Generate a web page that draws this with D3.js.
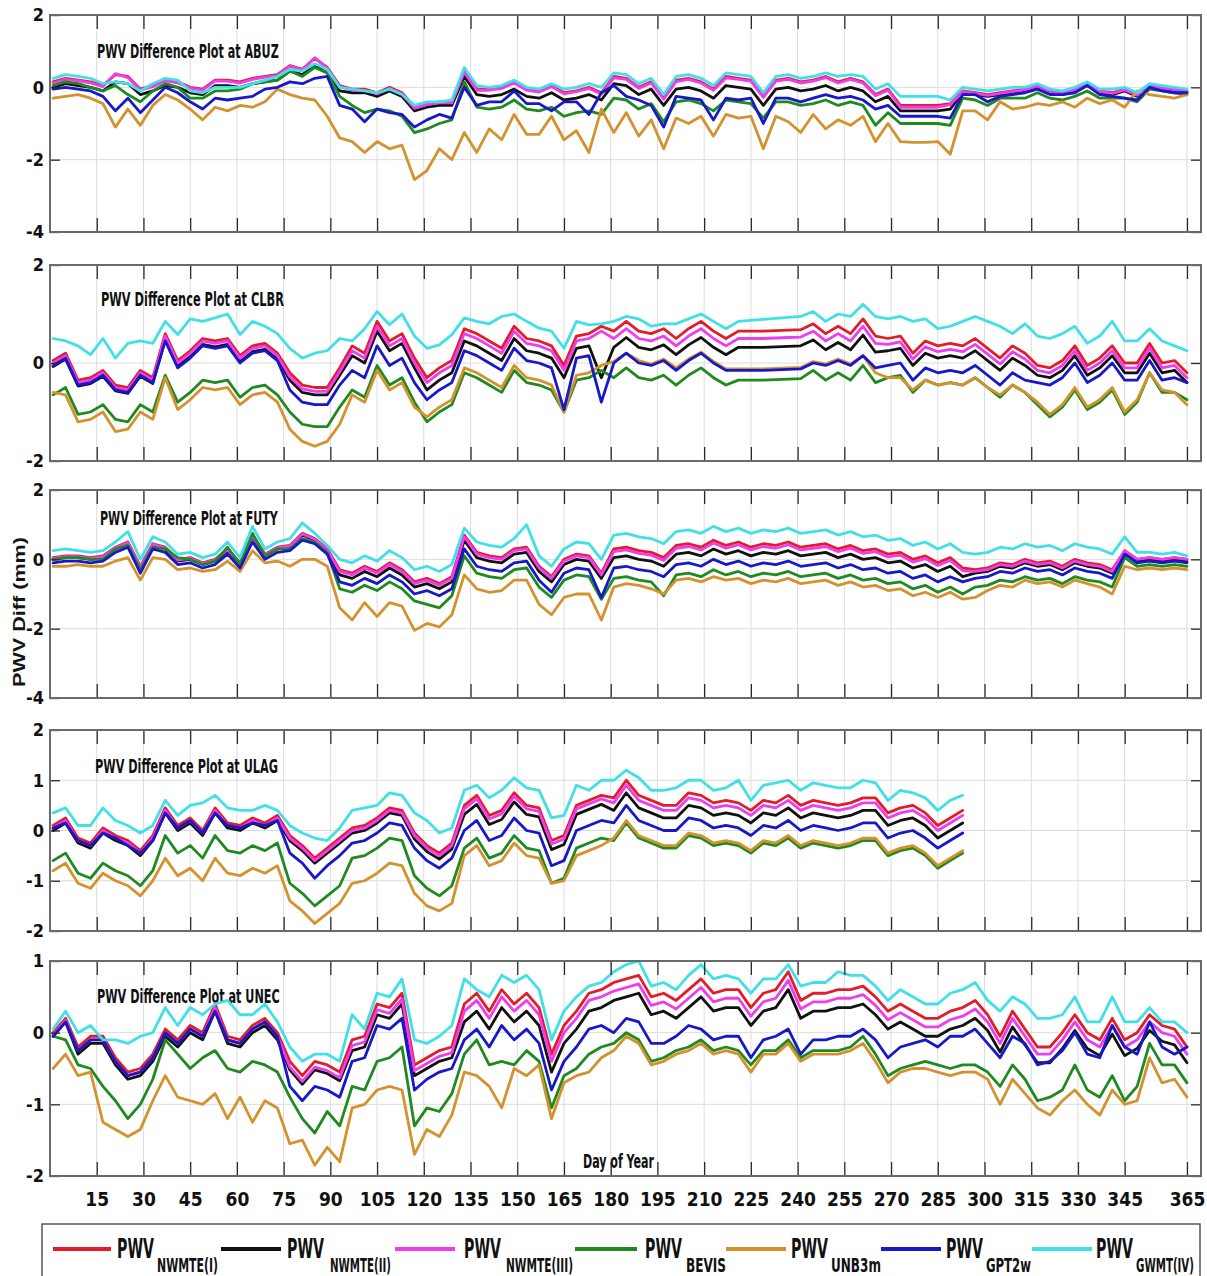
<!DOCTYPE html>
<html>
<head>
<meta charset="utf-8">
<script src="https://cdn.jsdelivr.net/npm/d3@7"></script>
<style>
  html, body { margin: 0; padding: 0; background: #ffffff; }
  svg { display: block; }
</style>
</head>
<body>
<svg id="chart" width="1207" height="1276"></svg>
<script>
// ---------------------------------------------------------------------------
// Data: daily PWV differences (mm), sampled every 4th day of the year
// ---------------------------------------------------------------------------
const days = [1,5,9,13,17,21,25,29,33,37,41,45,49,53,57,61,65,69,73,77,81,85,89,93,97,
  101,105,109,113,117,121,125,129,133,137,141,145,149,153,157,161,165,169,173,177,181,185,
  189,193,197,201,205,209,213,217,221,225,229,233,237,241,245,249,253,257,261,265,269,273,
  277,281,285,289,293,297,301,305,309,313,317,321,325,329,333,337,341,345,349,353,357,361,365];

const seriesKeys = ["NWMTE(I)", "NWMTE(II)", "NWMTE(III)", "BEVIS", "UNB3m", "GPT2w", "GWMT(IV)"];
const stationNames = ["ABUZ", "CLBR", "FUTY", "ULAG", "UNEC"];
const xTickDays = [15,30,45,60,75,90,105,120,135,150,165,180,195,210,225,240,255,270,285,300,315,330,345,365];

// ABUZ
const abuzNwmte1 = [0.15,0.25,0.2,0.15,0.05,0.35,0.3,-0.05,0.05,0.2,
  0.15,0.0,-0.05,0.2,0.2,0.15,0.25,0.3,0.35,0.6,
  0.5,0.8,0.55,0.05,-0.05,-0.05,-0.15,0.0,-0.15,-0.55,
  -0.45,-0.4,-0.4,0.45,-0.05,-0.05,0.0,0.15,-0.05,-0.1,
  0.05,-0.15,-0.1,0.0,-0.15,0.3,0.25,0.0,0.15,-0.3,
  0.2,0.25,0.15,-0.05,0.3,0.25,0.2,-0.25,0.2,0.25,
  0.15,0.2,0.3,0.15,0.25,0.15,-0.2,-0.05,-0.5,-0.5,
  -0.5,-0.5,-0.45,-0.1,-0.15,-0.2,-0.15,-0.1,-0.05,0.05,
  -0.1,-0.15,-0.05,0.1,-0.1,-0.15,-0.05,-0.2,0.05,0.0,
  -0.05,-0.1];
const abuzNwmte2 = [0.0,0.1,0.05,0.0,-0.1,0.15,0.1,-0.2,-0.1,0.05,
  0.0,-0.15,-0.2,0.05,0.05,0.0,0.1,0.15,0.2,0.45,
  0.35,0.6,0.4,-0.1,-0.15,-0.15,-0.25,-0.1,-0.25,-0.65,
  -0.55,-0.5,-0.5,0.3,-0.2,-0.25,-0.2,-0.05,-0.25,-0.3,
  -0.15,-0.35,-0.3,-0.2,-0.35,0.1,0.05,-0.2,-0.05,-0.5,
  -0.05,0.0,-0.1,-0.3,0.05,0.0,-0.05,-0.5,-0.05,0.0,
  -0.1,-0.05,0.05,-0.1,0.0,-0.1,-0.4,-0.25,-0.65,-0.65,
  -0.65,-0.65,-0.6,-0.15,-0.2,-0.25,-0.2,-0.15,-0.1,0.0,
  -0.15,-0.2,-0.1,0.05,-0.15,-0.2,-0.1,-0.25,0.0,-0.05,
  -0.1,-0.15];
const abuzNwmte3 = [0.12,0.22,0.18,0.12,0.02,0.38,0.27,-0.08,0.02,0.18,
  0.12,-0.02,-0.08,0.18,0.17,0.12,0.22,0.28,0.32,0.58,
  0.48,0.82,0.52,0.02,-0.08,-0.08,-0.18,-0.03,-0.18,-0.58,
  -0.48,-0.42,-0.43,0.42,-0.08,-0.08,-0.03,0.12,-0.08,-0.13,
  0.02,-0.18,-0.12,-0.03,-0.18,0.26,0.22,-0.03,0.12,-0.33,
  0.16,0.22,0.12,-0.08,0.26,0.22,0.17,-0.28,0.17,0.22,
  0.12,0.17,0.27,0.12,0.22,0.12,-0.23,-0.08,-0.55,-0.55,
  -0.55,-0.55,-0.48,-0.12,-0.17,-0.22,-0.17,-0.12,-0.07,0.03,
  -0.12,-0.17,-0.07,0.08,-0.12,-0.17,-0.07,-0.22,0.03,-0.02,
  -0.07,-0.12];
const abuzBevis = [0.05,0.15,0.1,0.0,-0.1,0.05,-0.2,-0.4,-0.1,0.1,
  0.0,-0.3,-0.3,-0.1,-0.1,-0.05,0.1,0.15,0.2,0.45,
  0.3,0.55,0.4,-0.25,-0.5,-0.7,-0.6,-0.65,-0.8,-1.25,
  -1.15,-1.0,-0.9,0.15,-0.55,-0.6,-0.55,-0.35,-0.6,-0.65,
  -0.55,-0.8,-0.7,-0.65,-0.75,-0.3,-0.35,-0.6,-0.45,-0.95,
  -0.4,-0.35,-0.45,-0.65,-0.35,-0.4,-0.45,-0.85,-0.4,-0.4,
  -0.5,-0.45,-0.35,-0.5,-0.4,-0.5,-1.05,-0.7,-1.0,-1.0,
  -1.0,-1.0,-1.05,-0.3,-0.35,-0.5,-0.3,-0.3,-0.3,-0.15,
  -0.3,-0.35,-0.25,-0.1,-0.3,-0.3,-0.3,-0.4,-0.05,-0.1,
  -0.15,-0.2];
const abuzUnb3m = [-0.3,-0.25,-0.2,-0.3,-0.45,-1.1,-0.6,-1.05,-0.5,-0.2,
  -0.35,-0.6,-0.9,-0.55,-0.65,-0.5,-0.55,-0.4,-0.05,-0.2,
  -0.3,-0.35,-0.8,-1.4,-1.5,-1.8,-1.5,-1.7,-1.6,-2.55,
  -2.3,-1.7,-2.0,-1.25,-1.8,-1.15,-1.45,-0.75,-1.3,-1.3,
  -0.8,-1.45,-1.2,-1.8,-0.6,-1.25,-0.7,-1.35,-0.9,-1.7,
  -0.85,-1.0,-0.8,-1.35,-0.75,-0.85,-0.8,-1.7,-0.8,-0.95,
  -1.25,-0.75,-1.15,-0.9,-1.05,-0.8,-1.5,-1.0,-1.5,-1.52,
  -1.52,-1.5,-1.85,-0.65,-0.65,-0.9,-0.4,-0.6,-0.55,-0.45,
  -0.5,-0.4,-0.55,-0.3,-0.45,-0.35,-0.55,-0.1,-0.2,-0.25,
  -0.3,-0.2];
const abuzGpt2w = [-0.05,0.0,-0.05,-0.1,-0.25,-0.65,-0.3,-0.7,-0.35,0.0,
  -0.15,-0.4,-0.6,-0.3,-0.35,-0.3,-0.25,-0.05,0.0,0.15,
  0.1,0.25,0.3,-0.5,-0.6,-0.95,-0.6,-0.7,-0.75,-1.1,
  -0.9,-0.75,-0.85,0.0,-0.5,-0.4,-0.4,-0.1,-0.45,-0.45,
  -0.65,-0.4,-0.4,-0.75,-0.15,0.05,-0.25,-0.35,-0.5,-1.1,
  -0.25,-0.3,-0.35,-0.9,-0.3,-0.35,-0.3,-1.0,-0.3,-0.3,
  -0.4,-0.3,-0.2,-0.3,-0.25,-0.35,-0.6,-0.5,-0.8,-0.8,
  -0.8,-0.8,-0.85,-0.2,-0.2,-0.4,-0.25,-0.2,-0.15,-0.05,
  -0.2,-0.2,-0.15,0.05,-0.2,-0.25,-0.3,-0.35,0.0,-0.1,
  -0.15,-0.15];
const abuzGwmt4 = [0.25,0.35,0.3,0.25,0.1,0.15,0.1,-0.1,0.1,0.25,
  0.2,-0.1,-0.15,0.0,0.0,0.0,0.1,0.2,0.3,0.5,
  0.45,0.65,0.5,0.0,-0.05,-0.1,-0.15,-0.05,-0.2,-0.5,
  -0.4,-0.4,-0.35,0.55,0.05,0.0,0.05,0.2,0.0,-0.05,
  0.1,-0.05,0.0,0.1,0.0,0.4,0.35,0.1,0.25,-0.2,
  0.3,0.35,0.25,0.05,0.4,0.35,0.3,-0.15,0.3,0.35,
  0.25,0.3,0.4,0.3,0.35,0.3,-0.05,0.1,-0.25,-0.25,
  -0.25,-0.25,-0.35,0.0,-0.05,-0.1,-0.05,0.0,0.0,0.1,
  -0.05,-0.1,0.0,0.15,-0.05,-0.05,0.0,-0.15,0.1,0.05,
  0.0,-0.05];

// CLBR
const clbrNwmte1 = [0.05,0.2,-0.35,-0.3,-0.15,-0.45,-0.5,-0.15,-0.3,
  0.6,0.05,0.25,0.5,0.45,0.5,0.15,0.35,0.4,0.2,
  -0.2,-0.45,-0.5,-0.5,-0.1,
  0.35,0.2,0.85,0.45,0.6,0.1,
  -0.3,-0.1,0.05,0.7,0.6,0.45,0.3,0.75,0.5,0.45,0.35,-0.05,0.55,0.6,0.75,
  0.65,0.85,0.65,0.6,0.7,0.5,0.7,0.85,0.65,0.5,0.65,0.65,0.65,0.66,0.67,0.68,0.8,0.6,0.75,0.6,0.9,0.55,
  0.5,0.55,0.2,0.45,0.35,0.4,0.35,0.5,0.3,0.1,0.35,0.2,
  -0.05,-0.1,0.05,0.35,-0.05,0.1,0.35,0.0,0.0,0.4,0.0,0.05,-0.2];
const clbrNwmte2 = [-0.07,0.08,-0.47,-0.42,-0.27,-0.57,-0.62,-0.27,-0.42,
  0.48,-0.07,0.13,0.38,0.33,0.38,0.03,0.23,0.28,0.08,
  -0.35,-0.6,-0.65,-0.65,-0.25,
  0.15,0.0,0.65,0.25,0.4,-0.1,
  -0.55,-0.35,-0.2,0.45,0.35,0.2,0.05,0.5,0.25,0.2,0.1,-0.3,0.3,0.35,-0.3,
  0.32,0.52,0.32,0.27,0.37,0.17,0.37,0.52,0.32,0.17,0.32,0.32,0.32,0.33,0.34,0.35,0.47,0.27,0.42,0.27,0.57,0.22,
  0.25,0.3,-0.05,0.2,0.1,0.15,0.1,0.25,0.05,-0.15,0.1,-0.05,
  -0.25,-0.3,-0.15,0.15,-0.25,-0.1,0.15,-0.2,-0.2,0.2,-0.2,-0.15,-0.4];
const clbrNwmte3 = [0.0,0.15,-0.4,-0.35,-0.2,-0.5,-0.55,-0.2,-0.35,
  0.55,0.0,0.2,0.45,0.4,0.45,0.1,0.3,0.35,0.15,
  -0.28,-0.53,-0.58,-0.58,-0.18,
  0.25,0.1,0.75,0.35,0.5,0.0,
  -0.4,-0.2,-0.05,0.6,0.5,0.35,0.2,0.65,0.4,0.35,0.25,-0.15,0.45,0.5,0.65,
  0.5,0.7,0.5,0.45,0.55,0.35,0.55,0.7,0.5,0.35,0.5,0.5,0.5,0.51,0.52,0.53,0.65,0.45,0.6,0.45,0.75,0.4,
  0.38,0.43,0.08,0.33,0.23,0.28,0.23,0.38,0.18,-0.02,0.23,0.08,
  -0.15,-0.2,-0.05,0.25,-0.15,0.0,0.25,-0.1,-0.1,0.3,-0.1,-0.05,-0.3];
const clbrBevis = [-0.65,-0.5,-1.05,-1.0,-0.85,-1.15,-1.2,-0.85,-1.0,
  -0.25,-0.8,-0.6,-0.35,-0.4,-0.35,-0.7,-0.5,-0.45,-0.65,
  -1.0,-1.25,-1.3,-1.3,-0.9,
  -0.55,-0.7,-0.05,-0.45,-0.3,-0.8,
  -1.2,-1.0,-0.85,-0.2,-0.3,-0.45,-0.6,-0.15,-0.4,-0.45,-0.55,-1.0,-0.35,-0.3,-0.15,
  -0.3,-0.1,-0.3,-0.35,-0.25,-0.45,-0.25,-0.1,-0.3,-0.45,-0.35,-0.35,-0.35,-0.34,-0.33,-0.32,-0.15,-0.35,-0.2,-0.35,-0.05,-0.4,
  -0.3,-0.25,-0.6,-0.35,-0.45,-0.4,-0.45,-0.3,-0.5,-0.7,-0.45,-0.6,
  -0.85,-1.1,-0.9,-0.55,-0.95,-0.8,-0.55,-1.05,-0.8,-0.2,-0.6,-0.6,-0.75];
const clbrUnb3m = [-0.6,-0.65,-1.2,-1.15,-1.0,-1.4,-1.35,-1.0,-1.15,
  -0.3,-0.95,-0.75,-0.5,-0.55,-0.5,-0.85,-0.65,-0.6,-0.8,
  -1.35,-1.6,-1.7,-1.6,-1.25,
  -0.65,-0.8,-0.15,-0.55,-0.4,-0.9,
  -1.1,-0.9,-0.75,-0.1,-0.2,-0.35,-0.5,-0.05,-0.3,-0.35,-0.45,-1.0,-0.25,-0.2,-0.05,
  0.03,0.2,0.05,-0.02,0.08,-0.1,0.08,0.22,0.03,-0.12,-0.12,-0.12,-0.12,-0.11,-0.1,-0.09,0.03,-0.02,0.08,-0.02,0.15,-0.2,
  -0.3,-0.3,-0.55,-0.35,-0.45,-0.4,-0.45,-0.3,-0.5,-0.65,-0.45,-0.6,
  -0.8,-1.05,-0.85,-0.5,-0.9,-0.75,-0.5,-1.0,-0.75,-0.2,-0.55,-0.6,-0.85];
const clbrGpt2w = [-0.05,0.1,-0.45,-0.4,-0.25,-0.55,-0.6,-0.25,-0.4,
  0.45,-0.1,0.1,0.35,0.3,0.35,0.0,0.2,0.25,0.05,
  -0.55,-0.8,-0.85,-0.85,-0.45,
  -0.15,-0.3,0.35,-0.05,0.1,-0.4,
  -0.75,-0.55,-0.4,0.25,0.15,0.0,-0.15,0.3,0.05,0.0,-0.1,-0.95,0.1,0.15,-0.8,
  0.0,0.2,0.0,-0.05,0.05,-0.15,0.05,0.2,0.0,-0.15,-0.15,-0.15,-0.15,-0.14,-0.13,-0.12,0.0,-0.05,0.05,-0.05,0.15,-0.1,
  -0.05,0.0,-0.35,-0.1,-0.2,-0.15,-0.2,-0.05,-0.25,-0.45,-0.2,-0.35,
  -0.4,-0.45,-0.3,0.0,-0.4,-0.25,0.0,-0.35,-0.35,0.05,-0.35,-0.3,-0.4];
const clbrGwmt4 = [0.5,0.45,0.35,0.17,0.5,0.1,0.4,0.45,0.4,
  0.85,0.58,0.9,0.85,0.92,1.0,0.58,0.85,0.75,0.6,
  0.3,0.1,0.2,0.25,0.5,
  0.45,0.7,1.05,0.78,1.0,0.55,
  0.3,0.37,0.58,0.92,0.85,0.8,0.95,1.0,0.85,0.71,0.65,0.3,0.85,0.78,0.8,
  0.85,0.95,0.9,0.75,0.8,0.8,0.9,1.0,0.85,0.7,0.85,0.87,0.89,0.91,0.93,0.95,1.05,0.85,1.0,0.95,1.2,0.95,
  0.9,0.95,0.85,0.9,0.7,0.75,0.85,0.95,0.85,0.75,0.6,0.8,
  0.55,0.5,0.6,0.75,0.4,0.55,0.85,0.45,0.45,0.7,0.45,0.35,0.25];

// FUTY
const futyNwmte1 = [0.05,0.1,0.1,0.05,0.1,0.35,0.5,-0.2,0.45,0.35,0.0,0.05,-0.1,0.0,0.3,-0.1,0.7,0.15,0.35,0.4,0.75,0.6,0.3,
  -0.3,-0.4,-0.2,-0.35,-0.1,-0.3,-0.65,-0.55,-0.7,-0.5,
  0.7,0.2,0.1,0.05,0.3,0.35,-0.2,-0.5,0.0,0.15,0.1,-0.4,
  0.3,0.35,0.25,0.2,0.05,0.4,0.45,0.35,0.55,0.4,0.5,0.35,0.45,0.4,0.5,0.35,0.4,0.45,0.3,0.4,0.25,0.3,0.15,0.2,0.0,0.1,-0.1,0.05,-0.25,
  -0.3,-0.25,-0.1,-0.15,0.0,-0.1,-0.05,-0.2,0.0,-0.1,-0.15,-0.3,
  0.25,0.0,0.05,0.0,0.05,0.0];
const futyNwmte2 = [0.0,0.05,0.05,0.0,0.05,0.3,0.45,-0.25,0.4,0.3,-0.05,0.0,-0.15,-0.05,0.25,-0.15,0.65,0.1,0.3,0.35,0.7,0.55,0.25,
  -0.45,-0.55,-0.35,-0.5,-0.25,-0.45,-0.8,-0.7,-0.85,-0.65,
  0.55,0.05,-0.05,-0.1,0.15,0.2,-0.35,-0.65,-0.15,0.0,-0.05,-0.55,
  0.05,0.1,0.0,-0.05,-0.2,0.15,0.2,0.1,0.3,0.15,0.25,0.1,0.2,0.15,0.25,0.1,0.15,0.2,0.05,0.15,0.0,0.05,-0.1,-0.05,-0.25,-0.15,-0.35,-0.2,-0.5,
  -0.4,-0.35,-0.2,-0.25,-0.1,-0.2,-0.15,-0.3,-0.1,-0.2,-0.25,-0.4,
  0.2,-0.05,0.0,-0.05,0.0,-0.05];
const futyNwmte3 = [0.03,0.08,0.08,0.03,0.08,0.33,0.48,-0.22,0.43,0.33,-0.02,0.03,-0.12,-0.02,0.28,-0.12,0.68,0.13,0.33,0.38,0.73,0.58,0.28,
  -0.35,-0.45,-0.25,-0.4,-0.15,-0.35,-0.7,-0.6,-0.75,-0.55,
  0.65,0.15,0.05,0.0,0.25,0.3,-0.25,-0.55,-0.05,0.1,0.05,-0.45,
  0.22,0.27,0.17,0.12,-0.03,0.32,0.37,0.27,0.47,0.32,0.42,0.27,0.37,0.32,0.42,0.27,0.32,0.37,0.22,0.32,0.17,0.22,0.07,0.12,-0.08,0.02,-0.18,-0.03,-0.33,
  -0.35,-0.3,-0.15,-0.2,-0.05,-0.15,-0.1,-0.25,-0.05,-0.15,-0.2,-0.35,
  0.25,0.0,0.05,0.0,0.05,0.0];
const futyBevis = [0.0,0.05,0.05,0.0,0.0,0.3,0.4,-0.3,0.35,0.3,0.05,0.0,-0.15,-0.05,0.35,-0.15,0.75,0.1,0.3,0.3,0.6,0.5,0.2,
  -0.85,-0.95,-0.75,-0.9,-0.65,-0.85,-1.2,-1.3,-1.4,-1.05,
  0.1,-0.4,-0.5,-0.55,-0.3,-0.25,-0.8,-1.1,-0.6,-0.45,-0.5,-1.15,
  -0.55,-0.5,-0.6,-0.65,-1.05,-0.45,-0.4,-0.5,-0.3,-0.45,-0.35,-0.5,-0.4,-0.45,-0.35,-0.5,-0.45,-0.4,-0.55,-0.45,-0.6,-0.55,-0.7,-0.65,-0.85,-0.75,-0.95,-0.8,-1.0,
  -0.8,-0.75,-0.6,-0.65,-0.5,-0.6,-0.55,-0.7,-0.5,-0.6,-0.65,-0.8,
  0.05,-0.2,-0.15,-0.2,-0.15,-0.2];
const futyUnb3m = [-0.2,-0.2,-0.15,-0.2,-0.2,-0.05,0.05,-0.6,0.05,0.0,-0.3,-0.25,-0.35,-0.3,-0.05,-0.35,0.25,-0.1,-0.05,-0.2,0.0,0.0,-0.2,
  -1.4,-1.75,-1.25,-1.65,-1.25,-1.35,-2.05,-1.85,-1.95,-1.6,
  -0.45,-0.85,-0.95,-0.9,-0.6,-0.6,-1.3,-1.6,-1.1,-1.0,-1.0,-1.75,
  -0.8,-0.7,-0.75,-0.85,-1.0,-0.6,-0.55,-0.65,-0.5,-0.6,-0.55,-0.7,-0.6,-0.65,-0.55,-0.7,-0.65,-0.6,-0.75,-0.65,-0.8,-0.75,-0.9,-0.85,-1.05,-0.95,-1.1,-0.95,-1.15,
  -1.1,-0.9,-0.75,-0.8,-0.6,-0.7,-0.65,-0.8,-0.6,-0.7,-0.8,-1.0,
  -0.2,-0.3,-0.25,-0.3,-0.25,-0.3];
const futyGpt2w = [-0.1,-0.05,-0.05,-0.1,-0.05,0.2,0.35,-0.4,0.3,0.2,-0.15,-0.1,-0.25,-0.15,0.15,-0.25,0.5,0.0,0.2,0.25,0.55,0.45,0.15,
  -0.65,-0.75,-0.55,-0.7,-0.45,-0.65,-1.0,-0.9,-1.05,-0.85,
  0.3,-0.2,-0.3,-0.35,-0.1,-0.05,-0.6,-0.95,-0.4,-0.25,-0.3,-1.1,
  -0.25,-0.2,-0.3,-0.35,-0.5,-0.15,-0.1,-0.2,0.0,-0.15,-0.05,-0.2,-0.1,-0.15,-0.05,-0.2,-0.15,-0.1,-0.25,-0.15,-0.3,-0.25,-0.4,-0.35,-0.55,-0.45,-0.65,-0.5,-0.65,
  -0.55,-0.5,-0.35,-0.4,-0.25,-0.35,-0.3,-0.45,-0.25,-0.35,-0.4,-0.55,
  0.15,-0.1,-0.05,-0.1,-0.05,-0.1];
const futyGwmt4 = [0.25,0.3,0.25,0.2,0.25,0.5,0.8,0.0,0.65,0.5,0.15,0.2,0.05,0.15,0.5,0.05,0.95,0.3,0.5,0.6,1.05,0.75,0.4,
  0.0,-0.1,0.1,-0.05,0.25,0.05,-0.3,-0.2,-0.35,-0.15,
  0.9,0.5,0.4,0.35,0.6,1.0,0.1,-0.2,0.3,0.5,0.45,0.0,
  0.7,0.75,0.65,0.6,0.45,0.8,0.85,0.75,0.95,0.8,0.9,0.75,0.85,0.8,0.9,0.75,0.8,0.85,0.7,0.8,0.65,0.7,0.55,0.6,0.4,0.5,0.3,0.45,0.2,
  0.15,0.2,0.35,0.3,0.45,0.35,0.4,0.25,0.45,0.35,0.3,0.15,
  0.65,0.2,0.2,0.15,0.2,0.1];

// ULAG (record ends in late October)
const ulagNwmte1 = [0.1,0.25,-0.15,-0.25,0.05,-0.1,-0.2,-0.4,-0.1,
  0.45,0.1,0.25,0.0,0.45,0.15,0.1,0.25,0.15,0.3,
  -0.1,-0.3,-0.55,-0.35,-0.15,
  0.05,0.1,0.25,0.45,0.4,
  -0.05,-0.3,-0.45,-0.25,
  0.5,0.7,0.3,0.4,0.75,0.5,0.45,-0.2,-0.1,0.5,0.6,0.7,
  0.65,1.0,0.7,0.6,0.5,0.5,0.75,0.7,0.55,0.6,0.55,0.4,0.6,0.55,0.7,0.5,0.6,0.55,0.5,0.55,0.65,0.65,0.35,0.45,0.5,0.35,0.1,0.25,0.4];
const ulagNwmte2 = [0.0,0.15,-0.25,-0.35,-0.05,-0.2,-0.3,-0.5,-0.2,
  0.35,0.0,0.15,-0.1,0.35,0.05,0.0,0.15,0.05,0.2,
  -0.2,-0.4,-0.65,-0.45,-0.25,
  -0.05,0.0,0.15,0.35,0.3,
  -0.17,-0.42,-0.57,-0.37,
  0.32,0.52,0.12,0.22,0.57,0.32,0.27,-0.38,-0.28,0.32,0.42,0.52,
  0.4,0.75,0.45,0.35,0.25,0.25,0.5,0.45,0.3,0.35,0.3,0.15,0.35,0.3,0.45,0.25,0.35,0.3,0.25,0.3,0.4,0.4,0.1,0.2,0.25,0.1,-0.15,0.0,0.15];
const ulagNwmte3 = [0.05,0.2,-0.2,-0.3,0.0,-0.15,-0.25,-0.45,-0.15,
  0.4,0.05,0.2,-0.05,0.4,0.1,0.05,0.2,0.1,0.25,
  -0.15,-0.35,-0.6,-0.4,-0.2,
  0.0,0.05,0.2,0.4,0.35,
  -0.1,-0.35,-0.5,-0.3,
  0.43,0.63,0.23,0.33,0.68,0.43,0.38,-0.27,-0.17,0.43,0.53,0.63,
  0.55,0.9,0.6,0.5,0.4,0.4,0.65,0.6,0.45,0.5,0.45,0.3,0.5,0.45,0.6,0.4,0.5,0.45,0.4,0.45,0.55,0.55,0.25,0.35,0.4,0.25,0.0,0.15,0.3];
const ulagBevis = [-0.6,-0.45,-0.85,-0.95,-0.65,-0.8,-0.9,-1.1,-0.8,
  -0.1,-0.45,-0.3,-0.55,-0.1,-0.4,-0.45,-0.3,-0.4,-0.25,
  -1.05,-1.25,-1.5,-1.3,-1.1,
  -0.55,-0.5,-0.35,-0.15,-0.2,
  -0.9,-1.15,-1.3,-1.1,
  -0.35,-0.15,-0.55,-0.45,-0.1,-0.35,-0.4,-1.05,-0.95,-0.35,-0.25,-0.15,
  -0.2,0.15,-0.15,-0.25,-0.35,-0.35,-0.1,-0.15,-0.3,-0.25,-0.3,-0.45,-0.25,-0.3,-0.15,-0.35,-0.25,-0.3,-0.35,-0.3,-0.2,-0.2,-0.5,-0.4,-0.35,-0.5,-0.75,-0.6,-0.45];
const ulagUnb3m = [-0.8,-0.65,-1.05,-1.15,-0.85,-1.0,-1.1,-1.3,-1.0,
  -0.55,-0.9,-0.75,-1.0,-0.55,-0.85,-0.9,-0.75,-0.85,-0.7,
  -1.4,-1.6,-1.85,-1.65,-1.45,
  -1.05,-1.0,-0.85,-0.65,-0.7,
  -1.25,-1.5,-1.6,-1.45,
  -0.5,-0.3,-0.7,-0.6,-0.25,-0.5,-0.55,-1.05,-1.0,-0.5,-0.4,-0.3,
  -0.15,0.2,-0.1,-0.2,-0.3,-0.3,-0.05,-0.1,-0.25,-0.2,-0.25,-0.4,-0.2,-0.25,-0.1,-0.3,-0.2,-0.25,-0.3,-0.25,-0.15,-0.15,-0.45,-0.35,-0.3,-0.45,-0.7,-0.55,-0.4];
const ulagGpt2w = [0.05,0.15,-0.2,-0.3,-0.05,-0.15,-0.3,-0.45,-0.2,
  0.35,0.05,0.2,-0.05,0.35,0.1,0.05,0.15,0.1,0.2,
  -0.45,-0.65,-0.95,-0.7,-0.5,
  -0.25,-0.2,-0.05,0.15,0.1,
  -0.35,-0.6,-0.75,-0.55,
  0.0,0.2,-0.2,-0.1,0.25,0.0,-0.05,-0.7,-0.6,0.0,0.1,0.2,
  0.15,0.5,0.2,0.1,0.0,0.0,0.25,0.2,0.05,0.1,0.05,-0.1,0.1,0.05,0.2,0.0,0.1,0.05,0.0,0.05,0.15,0.15,-0.15,-0.05,0.0,-0.15,-0.35,-0.2,-0.05];
const ulagGwmt4 = [0.35,0.45,0.1,0.1,0.45,0.2,0.1,-0.05,0.1,
  0.6,0.3,0.5,0.55,0.7,0.45,0.4,0.4,0.5,0.4,
  0.1,-0.05,-0.15,-0.2,0.05,
  0.4,0.45,0.5,0.75,0.7,
  0.35,0.2,-0.05,0.05,
  0.8,0.9,0.65,0.8,1.05,0.85,0.8,0.25,0.3,0.9,0.8,1.0,
  1.0,1.2,1.05,0.8,0.8,0.85,1.0,1.0,0.8,0.85,1.0,0.6,0.9,0.95,1.0,0.8,0.95,0.9,0.85,0.85,1.0,0.95,0.6,0.8,0.75,0.65,0.4,0.6,0.7];

// UNEC
const unecNwmte1 = [0.0,0.2,-0.2,-0.05,-0.05,-0.35,-0.55,-0.5,-0.3,0.05,
  -0.1,0.1,0.0,0.4,-0.05,-0.1,0.1,0.2,0.0,-0.4,
  -0.6,-0.4,-0.45,-0.55,-0.1,-0.05,0.4,0.35,0.55,-0.45,
  -0.35,-0.25,-0.2,0.4,0.55,0.3,0.6,0.4,0.55,0.35,
  -0.3,0.1,0.3,0.55,0.6,0.7,0.75,0.8,0.5,0.55,
  0.45,0.6,0.75,0.55,0.6,0.6,0.35,0.55,0.6,0.85,
  0.45,0.55,0.55,0.6,0.6,0.65,0.5,0.3,0.4,0.3,
  0.2,0.2,0.3,0.35,0.45,0.25,-0.05,0.3,0.05,-0.2,
  -0.2,0.0,0.25,0.0,-0.1,0.2,-0.1,0.0,0.25,0.1,
  0.05,-0.2];
const unecNwmte2 = [-0.05,0.15,-0.3,-0.15,-0.15,-0.45,-0.65,-0.6,-0.4,-0.05,
  -0.2,0.0,-0.1,0.3,-0.15,-0.2,0.0,0.1,-0.1,-0.52,
  -0.72,-0.52,-0.57,-0.67,-0.25,-0.2,0.25,0.2,0.4,-0.6,
  -0.5,-0.4,-0.35,0.15,0.3,0.05,0.35,0.15,0.3,0.1,
  -0.55,-0.15,0.05,0.3,0.35,0.45,0.5,0.55,0.25,0.3,
  0.2,0.35,0.5,0.3,0.35,0.35,0.1,0.3,0.35,0.6,
  0.2,0.3,0.3,0.35,0.35,0.4,0.25,0.05,0.15,0.05,
  -0.05,-0.05,0.05,0.1,0.2,0.03,-0.27,0.08,-0.17,-0.42,
  -0.42,-0.22,0.03,-0.22,-0.32,-0.02,-0.32,-0.22,0.03,-0.12,
  -0.17,-0.42];
const unecNwmte3 = [-0.03,0.17,-0.25,-0.1,-0.1,-0.4,-0.6,-0.55,-0.35,0.0,
  -0.15,0.05,-0.05,0.35,-0.1,-0.15,0.05,0.15,-0.05,-0.48,
  -0.68,-0.48,-0.53,-0.63,-0.18,-0.13,0.32,0.27,0.47,-0.53,
  -0.43,-0.33,-0.28,0.3,0.45,0.2,0.5,0.3,0.45,0.25,
  -0.4,0.0,0.2,0.45,0.5,0.58,0.63,0.68,0.38,0.43,
  0.33,0.48,0.63,0.43,0.48,0.48,0.23,0.43,0.48,0.73,
  0.33,0.43,0.43,0.48,0.48,0.53,0.38,0.18,0.28,0.18,
  0.08,0.08,0.18,0.23,0.33,0.15,-0.15,0.2,-0.05,-0.3,
  -0.3,-0.1,0.15,-0.1,-0.2,0.1,-0.2,-0.1,0.15,0.0,
  -0.05,-0.3];
const unecBevis = [-0.05,-0.1,-0.45,-0.5,-0.75,-0.95,-1.2,-1.0,-0.65,-0.1,
  -0.3,-0.5,-0.35,-0.25,-0.5,-0.55,-0.4,-0.45,-0.55,-0.9,
  -1.2,-1.4,-1.1,-1.3,-0.75,-0.8,-0.4,-0.35,-0.2,-1.3,
  -1.05,-1.1,-0.85,-0.3,-0.1,-0.45,-0.4,-0.45,-0.25,-0.4,
  -1.05,-0.6,-0.5,-0.3,-0.2,-0.15,0.0,-0.1,-0.4,-0.35,
  -0.25,-0.2,-0.1,-0.25,-0.2,-0.25,-0.45,-0.25,-0.25,-0.1,
  -0.35,-0.25,-0.25,-0.25,-0.2,-0.05,-0.3,-0.6,-0.5,-0.45,
  -0.4,-0.45,-0.5,-0.45,-0.45,-0.55,-0.75,-0.45,-0.65,-0.95,
  -0.9,-0.8,-0.45,-0.8,-0.9,-0.6,-0.95,-0.75,-0.15,-0.45,
  -0.45,-0.7];
const unecUnb3m = [-0.5,-0.3,-0.6,-0.55,-1.25,-1.35,-1.45,-1.35,-0.95,-0.6,
  -0.9,-0.95,-1.0,-0.85,-1.2,-0.9,-1.25,-0.95,-1.05,-1.55,
  -1.5,-1.85,-1.6,-1.8,-1.05,-1.0,-0.8,-0.75,-0.8,-1.7,
  -1.35,-1.45,-1.15,-0.55,-0.6,-0.75,-1.05,-0.5,-0.6,-0.45,
  -1.2,-0.7,-0.6,-0.55,-0.35,-0.25,-0.05,-0.15,-0.45,-0.4,
  -0.3,-0.25,-0.15,-0.3,-0.25,-0.3,-0.55,-0.3,-0.3,-0.15,
  -0.4,-0.3,-0.3,-0.3,-0.25,-0.15,-0.4,-0.7,-0.55,-0.5,
  -0.5,-0.55,-0.6,-0.55,-0.55,-0.65,-1.0,-0.65,-0.85,-1.05,
  -1.15,-0.95,-0.8,-1.0,-1.15,-0.8,-1.0,-0.95,-0.35,-0.7,
  -0.65,-0.9];
const unecGpt2w = [-0.05,0.15,-0.25,-0.1,-0.1,-0.4,-0.6,-0.55,-0.35,0.0,
  -0.15,0.05,-0.05,0.3,-0.1,-0.15,0.05,0.15,-0.05,-0.75,
  -0.95,-0.75,-0.8,-0.9,-0.4,-0.35,0.1,0.05,0.2,-0.8,
  -0.65,-0.55,-0.5,-0.1,0.05,-0.2,0.1,-0.1,0.05,-0.15,
  -0.8,-0.4,-0.2,0.05,0.1,0.0,0.2,0.15,-0.15,-0.15,
  -0.05,0.1,0.05,-0.1,-0.05,-0.05,-0.35,-0.1,-0.05,0.05,
  -0.3,-0.1,-0.1,-0.05,-0.05,0.05,-0.1,-0.35,-0.2,-0.15,
  -0.1,-0.2,-0.05,-0.05,0.05,-0.15,-0.35,-0.05,-0.15,-0.45,
  -0.4,-0.25,0.0,-0.3,-0.35,0.1,-0.2,-0.3,0.15,-0.2,
  -0.3,-0.2];
const unecGwmt4 = [0.05,0.3,0.0,0.1,-0.1,-0.1,-0.15,-0.05,0.0,0.35,
  0.1,0.35,0.25,0.4,0.45,0.25,0.25,0.4,0.15,-0.2,
  -0.4,-0.3,-0.3,-0.4,0.25,0.05,0.55,0.5,0.75,-0.1,
  -0.15,-0.05,0.1,0.75,0.6,0.5,0.8,0.7,0.8,0.6,
  -0.1,0.3,0.5,0.65,0.7,0.85,0.95,1.0,0.65,0.7,
  0.6,0.8,0.95,0.75,0.8,0.75,0.55,0.75,0.75,0.95,
  0.65,0.7,0.7,0.85,0.8,0.8,0.65,0.45,0.6,0.5,
  0.4,0.4,0.55,0.6,0.7,0.45,0.3,0.5,0.4,0.2,
  0.2,0.25,0.5,0.15,0.15,0.5,0.15,0.15,0.35,0.15,
  0.15,0.0];

// Series per station, in legend order
const stationSeries = [
  [abuzNwmte1, abuzNwmte2, abuzNwmte3, abuzBevis, abuzUnb3m, abuzGpt2w, abuzGwmt4],
  [clbrNwmte1, clbrNwmte2, clbrNwmte3, clbrBevis, clbrUnb3m, clbrGpt2w, clbrGwmt4],
  [futyNwmte1, futyNwmte2, futyNwmte3, futyBevis, futyUnb3m, futyGpt2w, futyGwmt4],
  [ulagNwmte1, ulagNwmte2, ulagNwmte3, ulagBevis, ulagUnb3m, ulagGpt2w, ulagGwmt4],
  [unecNwmte1, unecNwmte2, unecNwmte3, unecBevis, unecUnb3m, unecGpt2w, unecGwmt4]
];
const stationYDomains = [[-4, 2], [-2, 2], [-4, 2], [-2, 2], [-2, 1]];
const stationYTicks = [[-4, -2, 0, 2], [-2, 0, 2], [-4, -2, 0, 2], [-2, -1, 0, 1, 2], [-2, -1, 0, 1]];

// ---------------------------------------------------------------------------
// Layout and style
// ---------------------------------------------------------------------------
const seriesColors = ["#e31c2a", "#111111", "#ee3cee", "#1f8a1f", "#d4922e", "#1818c8", "#40e0e6"];
const narrowFont = "'Liberation Sans Narrow', 'Arial Narrow', 'DejaVu Sans Condensed', 'Liberation Sans', Arial, sans-serif";
const plotLeft = 50, plotRight = 1201;
const panelBoxes = [
  { top: 15,  bottom: 232,  titleX: 97,  titleY: 58,   titleW: 182 },
  { top: 265, bottom: 461,  titleX: 101, titleY: 306,  titleW: 183 },
  { top: 490, bottom: 698,  titleX: 100, titleY: 525,  titleW: 178 },
  { top: 730, bottom: 931,  titleX: 95,  titleY: 773,  titleW: 183 },
  { top: 961, bottom: 1176, titleX: 97,  titleY: 1003, titleW: 183 }
];
const legendItems = [
  { x1: 53,   x2: 111,  tx: 117,  sx: 157,  sw: 61 },
  { x1: 221,  x2: 281,  tx: 287,  sx: 330,  sw: 61 },
  { x1: 395,  x2: 455,  tx: 464,  sx: 506,  sw: 67 },
  { x1: 575,  x2: 637,  tx: 645,  sx: 686,  sw: 40 },
  { x1: 726,  x2: 786,  tx: 791,  sx: 831,  sw: 50 },
  { x1: 881,  x2: 941,  tx: 946,  sx: 986,  sw: 45 },
  { x1: 1032, x2: 1092, tx: 1096, sx: 1136, sw: 58 }
];

const svg = d3.select("#chart");
svg.append("rect").attr("width", 1207).attr("height", 1276).attr("fill", "#ffffff");
const defs = svg.append("defs");

const x = d3.scaleLinear().domain([0, 369.5]).range([plotLeft, plotRight]);

function tickMarksOnly(sel) {
  sel.select(".domain").remove();
  sel.selectAll(".tick text").remove();
  sel.selectAll(".tick line").attr("stroke", "#2a2a2a").attr("stroke-width", 1.3);
}

// Condensed text: draw at the natural size, then squeeze horizontally to a target width
function condensedText(parent, px, py, width, size, weight, label) {
  const t = parent.append("text")
    .attr("x", 0).attr("y", 0)
    .attr("font-family", narrowFont).attr("font-size", size).attr("font-weight", weight)
    .attr("fill", "#111")
    .text(label);
  const natural = t.node().getComputedTextLength() || width;
  t.attr("transform", `translate(${px},${py}) scale(${(width / natural).toFixed(4)},1)`);
  return t;
}

stationNames.forEach((station, k) => {
  const box = panelBoxes[k];
  const y = d3.scaleLinear().domain(stationYDomains[k]).range([box.bottom, box.top]);
  const g = svg.append("g").attr("class", "panel-" + station);

  const clipId = "clip-" + station;
  defs.append("clipPath").attr("id", clipId).append("rect")
    .attr("x", plotLeft).attr("y", box.top)
    .attr("width", plotRight - plotLeft).attr("height", box.bottom - box.top);

  // light grid
  g.append("g").selectAll("line").data(xTickDays).join("line")
    .attr("x1", d => x(d)).attr("x2", d => x(d))
    .attr("y1", box.top).attr("y2", box.bottom)
    .attr("stroke", "#dcdcdc").attr("stroke-width", 1);
  g.append("g").selectAll("line")
    .data(stationYTicks[k].filter(v => v > stationYDomains[k][0] && v < stationYDomains[k][1]))
    .join("line")
    .attr("x1", plotLeft).attr("x2", plotRight)
    .attr("y1", d => y(d)).attr("y2", d => y(d))
    .attr("stroke", "#dcdcdc").attr("stroke-width", 1);

  // panel title
  condensedText(g, box.titleX, box.titleY, box.titleW, 20, "bold", "PWV Difference Plot at " + station);

  // series
  const line = d3.line()
    .x((d, i) => x(days[i]))
    .y(d => y(d));
  g.append("g").attr("clip-path", `url(#${clipId})`)
    .selectAll("path").data(stationSeries[k]).join("path")
    .attr("d", line)
    .attr("fill", "none")
    .attr("stroke", (d, i) => seriesColors[i])
    .attr("stroke-width", 2.8)
    .attr("stroke-linejoin", "round")
    .attr("stroke-linecap", "round");

  // inward tick marks on all four sides
  g.append("g").attr("transform", `translate(0,${box.top})`)
    .call(d3.axisBottom(x).tickValues(xTickDays).tickSize(14)).call(tickMarksOnly);
  g.append("g").attr("transform", `translate(0,${box.bottom})`)
    .call(d3.axisTop(x).tickValues(xTickDays).tickSize(14)).call(tickMarksOnly);
  g.append("g").attr("transform", `translate(${plotLeft},0)`)
    .call(d3.axisRight(y).tickValues(stationYTicks[k]).tickSize(10)).call(tickMarksOnly);
  g.append("g").attr("transform", `translate(${plotRight},0)`)
    .call(d3.axisLeft(y).tickValues(stationYTicks[k]).tickSize(10)).call(tickMarksOnly);

  // y tick labels
  const yLabels = g.append("g").attr("transform", `translate(${plotLeft},0)`)
    .call(d3.axisLeft(y).tickValues(stationYTicks[k]).tickSize(0).tickPadding(6).tickFormat(d => String(d)));
  yLabels.select(".domain").remove();
  yLabels.selectAll("text")
    .attr("font-family", narrowFont).attr("font-size", 18).attr("font-weight", "bold").attr("fill", "#111");

  // frame
  g.append("rect")
    .attr("x", plotLeft).attr("y", box.top)
    .attr("width", plotRight - plotLeft).attr("height", box.bottom - box.top)
    .attr("fill", "none").attr("stroke", "#6a6a6a").attr("stroke-width", 2);

  // x tick labels below the last panel
  if (k === stationNames.length - 1) {
    const xLabels = g.append("g").attr("transform", `translate(0,${box.bottom})`)
      .call(d3.axisBottom(x).tickValues(xTickDays).tickSize(0).tickPadding(17).tickFormat(d => String(d)));
    xLabels.select(".domain").remove();
    xLabels.selectAll("text")
      .attr("font-family", narrowFont).attr("font-size", 19).attr("font-weight", "bold").attr("fill", "#111");

    condensedText(g, 583, 1168, 71, 19, "bold", "Day of Year");
  }
});

// shared y-axis title
svg.append("text")
  .attr("transform", "translate(25,612) rotate(-90)")
  .attr("text-anchor", "middle")
  .attr("font-family", "'Liberation Sans', Arial, sans-serif")
  .attr("font-size", 16).attr("font-weight", "bold")
  .attr("textLength", 150).attr("lengthAdjust", "spacingAndGlyphs")
  .attr("fill", "#151515")
  .text("PWV Diff (mm)");

// legend
const legend = svg.append("g").attr("class", "legend");
legend.append("rect")
  .attr("x", 42).attr("y", 1224).attr("width", 1158).attr("height", 90)
  .attr("fill", "#ffffff").attr("stroke", "#555").attr("stroke-width", 1.5);
seriesKeys.forEach((key, i) => {
  const it = legendItems[i];
  legend.append("line")
    .attr("x1", it.x1).attr("x2", it.x2).attr("y1", 1249).attr("y2", 1249)
    .attr("stroke", seriesColors[i]).attr("stroke-width", 4);
  condensedText(legend, it.tx, 1258, 37, 27, "bold", "PWV");
  condensedText(legend, it.sx, 1272, it.sw, 19, "bold", key);
});
</script>
</body>
</html>
